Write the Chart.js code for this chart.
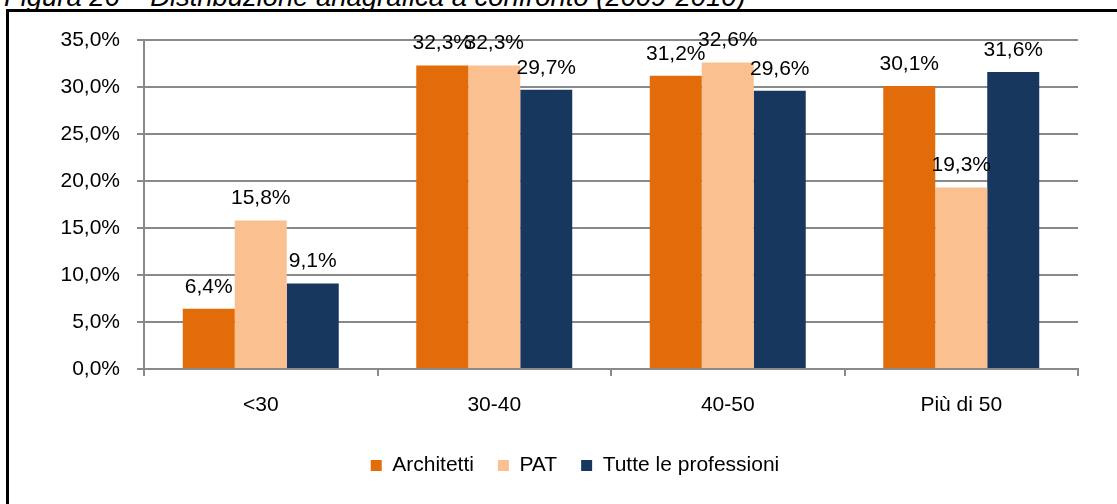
<!DOCTYPE html>
<html>
<head>
<meta charset="utf-8">
<script src="https://cdn.jsdelivr.net/npm/chart.js@4.4.1/dist/chart.umd.min.js"></script>
<style>
  html,body{margin:0;padding:0;background:#fff;overflow:hidden;}
  #wrap{position:relative;width:1117px;height:504px;}
  #chart{position:absolute;left:0;top:0;}
  #frame{position:absolute;left:6px;top:9px;width:1200px;height:600px;border:3px solid #000;box-sizing:border-box;}
  #title{position:absolute;left:4px;top:-16px;font:italic 27.4px "Liberation Sans",Arial,sans-serif;line-height:26px;white-space:nowrap;color:#000;}
</style>
</head>
<body>
<div id="wrap">
  <div id="title">Figura 26 – Distribuzione anagrafica a confronto (2009-2010)</div>
  <div id="frame"></div>
  <canvas id="chart" width="1117" height="504"></canvas>
</div>
<script>
// categorie e valori (percentuali)
var categories = ['<30', '30-40', '40-50', 'Più di 50'];
var architetti = [6.4, 32.3, 31.2, 30.1];
var pat = [15.8, 32.3, 32.6, 19.3];
var tutte = [9.1, 29.7, 29.6, 31.6];
var yTicks = [0, 5, 10, 15, 20, 25, 30, 35];

var gridGray = '#898989';
var font = '"Liberation Sans", Arial, sans-serif';

function fmt(v){
  return v.toFixed(1).replace('.', ',') + '%';
}

// etichette sopra le barre
var valueLabels = {
  id: 'valueLabels',
  afterDatasetsDraw: function(chart){
    var ctx = chart.ctx;
    ctx.save();
    ctx.font = '21px ' + font;
    ctx.fillStyle = '#000';
    ctx.textAlign = 'center';
    ctx.textBaseline = 'middle';
    chart.data.datasets.forEach(function(ds, i){
      var meta = chart.getDatasetMeta(i);
      meta.data.forEach(function(bar, j){
        ctx.fillText(fmt(ds.data[j]), bar.x, bar.y - 22);
      });
    });
    ctx.restore();
  }
};

// legenda centrata sulla pagina, non sul grafico
var legendShift = {
  id: 'legendShift',
  afterLayout: function(chart){
    if (chart.legend) {
      chart.legend.left += 36;
      chart.legend.right += 36;
    }
  }
};

new Chart(document.getElementById('chart'), {
  type: 'bar',
  data: {
    labels: categories,
    datasets: [
      {label: 'Architetti', data: architetti, backgroundColor: '#E36C0A'},
      {label: 'PAT', data: pat, backgroundColor: '#FAC090'},
      {label: 'Tutte le professioni', data: tutte, backgroundColor: '#17375E'}
    ]
  },
  options: {
    responsive: false,
    animation: false,
    devicePixelRatio: 1,
    layout: {padding: {left: 0, right: 39, top: 40, bottom: 18}},
    datasets: {bar: {categoryPercentage: 0.668, barPercentage: 1}},
    plugins: {
      tooltip: {enabled: false},
      legend: {
        position: 'bottom',
        labels: {
          boxWidth: 11, boxHeight: 11, padding: 24,
          color: '#000', font: {family: font, size: 21}
        }
      }
    },
    scales: {
      x: {
        grid: {display: true, drawOnChartArea: false, drawTicks: true, tickLength: 7, color: gridGray, lineWidth: 2},
        border: {display: true, color: gridGray, width: 2},
        ticks: {color: '#000', font: {family: font, size: 21}, padding: 17},
        afterFit: function(s){ s.height = 62; }
      },
      y: {
        min: 0, max: 35,
        afterBuildTicks: function(s){ s.ticks = yTicks.map(function(v){ return {value: v}; }); },
        grid: {color: gridGray, lineWidth: 2, tickLength: 7},
        border: {display: true, color: gridGray, width: 2},
        ticks: {color: '#000', font: {family: font, size: 21}, padding: 17,
          callback: function(v){ return fmt(v); }},
        afterFit: function(s){ s.width = 144; }
      }
    }
  },
  plugins: [valueLabels, legendShift]
});
</script>
</body>
</html>
